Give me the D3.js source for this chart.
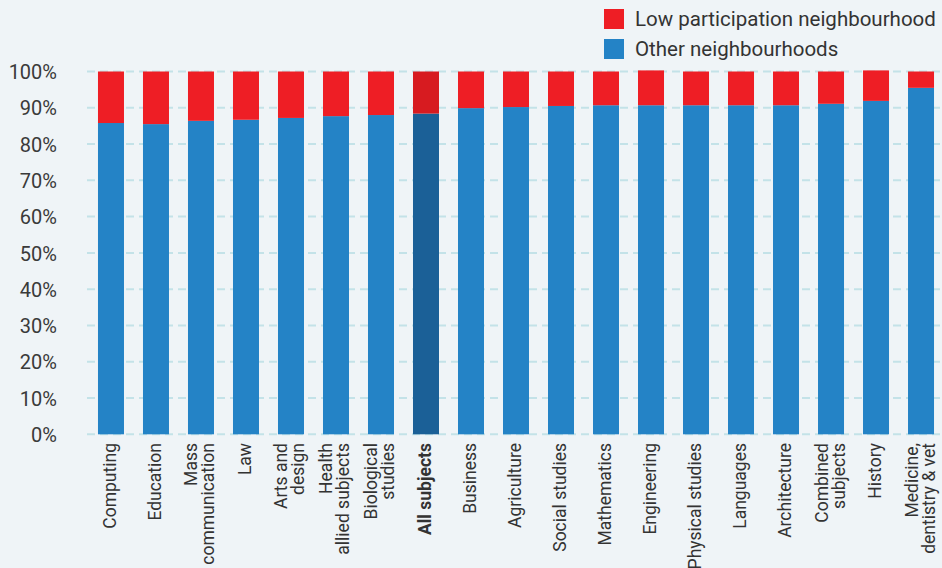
<!DOCTYPE html>
<html><head><meta charset="utf-8">
<script src="https://cdn.jsdelivr.net/npm/d3@7"></script>
<style>
html,body{margin:0;padding:0;background:#eff4f7;}
svg{display:block;font-family:Roboto,"Noto Sans",sans-serif;}
</style></head>
<body>
<svg id="chart" width="942" height="568"></svg>
<script>
const categories = ["Computing","Education","Mass\ncommunication","Law","Arts and\ndesign","Health\nallied subjects","Biological\nstudies","All subjects","Business","Agriculture","Social studies","Mathematics","Engineering","Physical studies","Languages","Architecture","Combined\nsubjects","History","Medicine,\ndentistry & vet"];
const otherNeighbourhoods = [85.8,85.5,86.4,86.7,87.2,87.7,88.0,88.4,89.9,90.2,90.5,90.7,90.7,90.7,90.7,90.7,91.1,91.9,95.5];
const lowParticipation    = [14.2,14.5,13.6,13.3,12.8,12.3,12.0,11.6,10.1, 9.8, 9.5, 9.3, 9.6, 9.3, 9.3, 9.3, 8.9, 8.4, 4.5];
const yTicks = [0,10,20,30,40,50,60,70,80,90,100];
const highlight = "All subjects";
const seriesNames = ["Low participation neighbourhood","Other neighbourhoods"];

const svg = d3.select("#chart");
const x = d3.scaleBand().domain(categories).range([87,945]).paddingInner(19/45).paddingOuter(0.244);
const y = d3.scaleLinear().domain([0,100]).range([434.3,71.5]);

const colors = {
  low: "#ee1e25", other: "#2483c6",
  lowH: "#d71b20", otherH: "#1b6097"
};

// gridlines
svg.append("g").selectAll("line").data(yTicks).join("line")
  .attr("x1",87).attr("x2",942)
  .attr("y1",d=>y(d)).attr("y2",d=>y(d))
  .attr("stroke","#c3e2e8").attr("stroke-width",2).attr("stroke-dasharray","8,5");

// y axis
const yAxis = d3.axisLeft(y).tickValues(yTicks).tickFormat(d=>d+"%").tickSize(0).tickPadding(0);
const ya = svg.append("g").attr("transform","translate(57,0)").call(yAxis);
ya.select(".domain").remove();
ya.selectAll("text").attr("font-size",20).attr("fill","#3a3a3a").attr("font-family","Roboto,sans-serif").attr("dy","0.36em");

// bars
const data = categories.map((c,i)=>({c, other: otherNeighbourhoods[i], low: lowParticipation[i]}));
const bars = svg.append("g");
bars.selectAll("rect.other").data(data).join("rect").attr("class","other")
  .attr("x",d=>x(d.c)).attr("width",x.bandwidth())
  .attr("y",d=>y(d.other)).attr("height",d=>y(0)-y(d.other))
  .attr("fill",d=>d.c===highlight?colors.otherH:colors.other);
bars.selectAll("rect.low").data(data).join("rect").attr("class","low")
  .attr("x",d=>x(d.c)).attr("width",x.bandwidth())
  .attr("y",d=>y(d.other+d.low)).attr("height",d=>y(d.other)-y(d.other+d.low))
  .attr("fill",d=>d.c===highlight?colors.lowH:colors.low);

// x axis labels
const xa = svg.append("g");
data.forEach(d=>{
  const lines = d.c.split("\n");
  const cx = x(d.c)+x.bandwidth()/2;
  const t = xa.append("text")
    .attr("transform",`translate(${cx},443) rotate(-90)`)
    .attr("text-anchor","end").attr("font-size",17.5).attr("fill","#333")
    .attr("font-weight",d.c===highlight?"bold":"normal");
  lines.forEach((ln,i)=>{
    const off = (i-(lines.length-1)/2)*17 + 5;
    t.append("tspan").attr("x",0).attr("y",off).text(ln);
  });
});

// legend
const legend = svg.append("g");
const legColors = [colors.low, colors.other];
seriesNames.forEach((n,i)=>{
  legend.append("rect").attr("x",604).attr("y",9+i*30).attr("width",20).attr("height",20).attr("fill",legColors[i]);
  legend.append("text").attr("x",635).attr("y",19+i*30).attr("dy","0.36em")
    .attr("font-size",20.5).attr("fill","#333").text(n);
});
</script>
</body></html>
